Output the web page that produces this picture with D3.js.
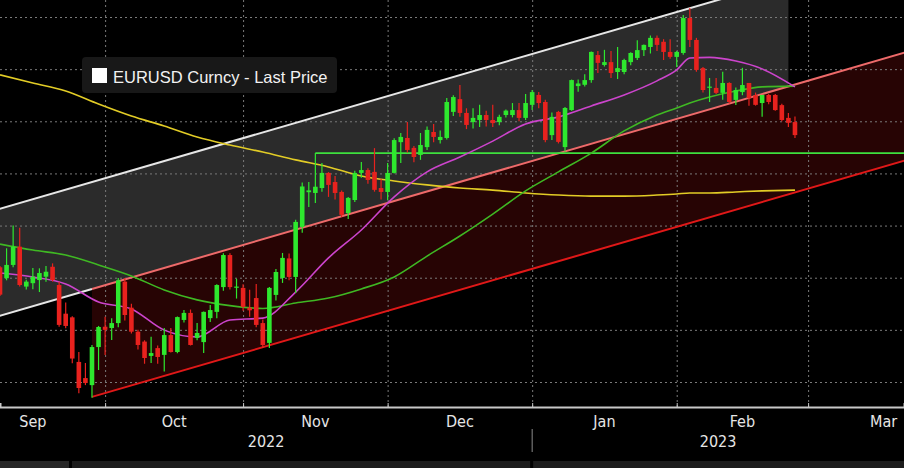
<!DOCTYPE html>
<html><head><meta charset="utf-8">
<script src="https://cdn.jsdelivr.net/npm/d3@7"></script>
<style>html,body{margin:0;padding:0;background:#000;overflow:hidden}</style>
</head><body><svg id="c" width="904" height="468"></svg>
<script>
// ---------- DATA (EURUSD daily, from 2022-09-08 to 2023-02-24) ----------
const firstDate = "2022-09-08";
const open = [
1.0040,0.9998,1.0049,1.0119,0.9966,0.9979,0.9991,1.0004,1.0042,0.9972,
0.9862,0.9848,0.9677,0.9615,0.9588,0.9734,0.9812,0.9807,0.9826,0.9985,
0.9885,0.9793,0.9755,0.9700,0.9730,0.9704,0.9780,0.9715,0.9838,0.9865,
0.9769,0.9753,0.9845,0.9869,0.9964,1.0087,0.9962,0.9961,0.9885,0.9922,
0.9826,0.9750,0.9934,0.9999,1.0074,1.0003,1.0195,1.0328,1.0325,1.0344,
1.0402,1.0367,1.0329,1.0248,1.0298,1.0402,1.0413,1.0406,1.0344,1.0329,
1.0402,1.0520,1.0536,1.0498,1.0471,1.0501,1.0559,1.0528,1.0536,1.0636,
1.0685,1.0632,1.0597,1.0605,1.0624,1.0605,1.0597,1.0624,1.0624,1.0643,
1.0613,1.0663,1.0701,1.0674,1.0547,1.0636,1.0501,1.0643,1.0735,1.0740,
1.0758,1.0854,1.0816,1.0827,1.0789,1.0789,1.0827,1.0843,1.0873,1.0885,
1.0920,1.0905,1.0866,1.0847,1.0862,1.0996,1.0912,1.0804,1.0731,1.0728,
1.0709,1.0747,1.0682,1.0712,1.0747,1.0700,1.0670,1.0701,1.0701,1.0662,
1.0613,1.0597];
const high = [
1.0045,1.0113,1.0200,1.0192,0.9992,1.0037,1.0036,1.0045,1.0055,0.9985,
0.9905,0.9852,0.9715,0.9673,0.9742,0.9815,0.9850,0.9845,0.9999,0.9999,
0.9900,0.9800,0.9760,0.9774,0.9740,0.9807,0.9807,0.9851,0.9876,0.9878,
0.9826,0.9870,0.9895,0.9975,1.0094,1.0094,0.9996,0.9975,0.9954,0.9976,
0.9840,0.9964,1.0033,1.0095,1.0093,1.0222,1.0365,1.0367,1.0478,1.0440,
1.0405,1.0390,1.0335,1.0310,1.0410,1.0444,1.0420,1.0497,1.0380,1.0440,
1.0535,1.0555,1.0597,1.0505,1.0555,1.0580,1.0590,1.0565,1.0689,1.0700,
1.0739,1.0650,1.0650,1.0663,1.0640,1.0663,1.0625,1.0645,1.0670,1.0670,
1.0705,1.0720,1.0712,1.0683,1.0634,1.0640,1.0655,1.0760,1.0760,1.0780,
1.0868,1.0870,1.0874,1.0870,1.0885,1.0840,1.0865,1.0911,1.0895,1.0929,
1.0929,1.0915,1.0915,1.0870,1.1008,1.1035,1.0920,1.0808,1.0766,1.0766,
1.0790,1.0750,1.0730,1.0805,1.0747,1.0710,1.0701,1.0705,1.0705,1.0667,
1.0632,1.0618];
const low = [
0.9930,0.9990,1.0040,0.9966,0.9955,0.9956,0.9945,0.9985,0.9985,0.9812,
0.9806,0.9672,0.9557,0.9588,0.9540,0.9646,0.9704,0.9761,0.9810,0.9836,
0.9786,0.9725,0.9670,0.9673,0.9670,0.9640,0.9713,0.9710,0.9828,0.9740,
0.9760,0.9711,0.9830,0.9845,0.9950,0.9955,0.9920,0.9873,0.9850,0.9810,
0.9730,0.9730,0.9913,0.9980,0.9990,0.9941,1.0172,1.0271,1.0287,1.0330,
1.0310,1.0300,1.0233,1.0225,1.0290,1.0383,1.0360,1.0330,1.0300,1.0298,
1.0400,1.0440,1.0480,1.0443,1.0452,1.0490,1.0520,1.0515,1.0530,1.0620,
1.0617,1.0570,1.0572,1.0578,1.0580,1.0578,1.0585,1.0615,1.0615,1.0600,
1.0605,1.0643,1.0650,1.0520,1.0528,1.0515,1.0484,1.0640,1.0713,1.0733,
1.0748,1.0785,1.0810,1.0766,1.0762,1.0780,1.0815,1.0835,1.0850,1.0860,
1.0870,1.0835,1.0840,1.0808,1.0855,1.0885,1.0790,1.0710,1.0674,1.0705,
1.0683,1.0668,1.0662,1.0700,1.0660,1.0660,1.0617,1.0665,1.0640,1.0600,
1.0578,1.0536];
const close = [
0.9935,1.0049,1.0119,0.9972,0.9985,1.0004,1.0018,1.0023,0.9991,0.9819,
0.9815,0.9690,0.9577,0.9596,0.9734,0.9811,0.9800,0.9826,0.9990,0.9857,
0.9793,0.9742,0.9692,0.9711,0.9696,0.9780,0.9715,0.9849,0.9865,0.9742,
0.9788,0.9869,0.9876,0.9972,1.0087,0.9964,0.9966,0.9888,0.9875,0.9819,
0.9742,0.9961,1.0022,1.0076,1.0003,1.0214,1.0350,1.0335,1.0349,1.0402,
1.0356,1.0325,1.0241,1.0306,1.0402,1.0413,1.0375,1.0337,1.0329,1.0402,
1.0528,1.0540,1.0490,1.0463,1.0509,1.0567,1.0540,1.0540,1.0674,1.0693,
1.0632,1.0586,1.0613,1.0624,1.0605,1.0593,1.0617,1.0641,1.0643,1.0613,
1.0670,1.0712,1.0670,1.0528,1.0617,1.0521,1.0651,1.0758,1.0745,1.0758,
1.0866,1.0824,1.0827,1.0785,1.0804,1.0835,1.0862,1.0873,1.0893,1.0920,
1.0893,1.0866,1.0847,1.0866,1.0996,1.0912,1.0797,1.0720,1.0733,1.0709,
1.0747,1.0674,1.0720,1.0739,1.0689,1.0663,1.0701,1.0674,1.0643,1.0605,
1.0594,1.0547];

// moving averages, sampled at these trading-day positions (0 = first date)
const maIdx   = [0,5,10,15,20,25,30,35,40,45,50,55,60,65,70,75,80,85,90,95,100,103,105,108,112,116,121];
const maShort = [1.0018,1.0003,0.9976,0.9907,0.9880,0.9799,0.9773,0.9838,0.9845,0.9945,1.0076,1.0183,1.0310,1.0406,1.0463,1.0524,1.0590,1.0617,1.0659,1.0701,1.0755,1.0797,1.0843,1.0845,1.0831,1.0801,1.0732];
const maMid   = [1.0129,1.0106,1.0087,1.0049,1.0007,0.9953,0.9915,0.9893,0.9882,0.9903,0.9922,0.9957,1.0003,1.0083,1.0160,1.0244,1.0333,1.0406,1.0478,1.0563,1.0624,1.0651,1.0670,1.0693,1.0716,1.0732,1.0735];
const maLong  = [1.0778,1.0747,1.0716,1.0666,1.0620,1.0582,1.0540,1.0509,1.0482,1.0452,1.0425,1.0390,1.0371,1.0356,1.0344,1.0336,1.0325,1.0317,1.0313,1.0313,1.0317,1.0321,1.0325,1.0325,1.0329,1.0333,1.0336];

// trend channel: middle line anchors (trading-day position, price) and offsets
const channelIdx = [14, 121];
const channelMid = [0.9957, 1.0741];
const channelUpperOffset = 0.0410;
const channelLowerOffset = 0.0414;
const greyChannelEnd = 120;
const redChannelStart = 14;
const levelPrice = 1.0478, levelStart = 48;

const priceTicks = [0.96,0.98,1.00,1.02,1.04,1.06,1.08,1.10];
const monthNames = ["Sep","Oct","Nov","Dec","Jan","Feb","Mar"];
const yearNames = ["2022","2023"];
const legendLabel = "EURUSD Curncy - Last Price";

// ---------- LAYOUT ----------
const W = 904, H = 468, plotBottom = 407, STEP = 6.57;
const svg = d3.select('#c');
svg.append('rect').attr('width', W).attr('height', H).attr('fill', '#000');

const allDays = d3.utcDays(new Date(Date.UTC(2022,7,1)), new Date(Date.UTC(2023,4,1)))
  .filter(d => d.getUTCDay() !== 0 && d.getUTCDay() !== 6);
const start = allDays.findIndex(d => d.toISOString().slice(0,10) === firstDate);
const x = d3.scaleLinear().domain([start, start + W / STEP]).range([0, W]);
const xj = j => x(start + j);
const y = d3.scaleLinear().domain([0.96, 1.10]).range([382, 17]);

const defs = svg.append('defs');
defs.append('clipPath').attr('id', 'plot').append('rect').attr('width', W).attr('height', plotBottom);
const plot = svg.append('g').attr('clip-path', 'url(#plot)');

// channel geometry
const mid = d3.scaleLinear().domain(channelIdx).range(channelMid);
const jLeft = x.invert(0) - start - 1, jRight = x.invert(W) - start + 1;

// grey channel
plot.append('path')
  .datum([jLeft, greyChannelEnd])
  .attr('fill', '#2b2b2b')
  .attr('d', d3.area().x(d => xj(d)).y0(d => y(mid(d))).y1(d => y(mid(d) + channelUpperOffset)));
// red channel
plot.append('path')
  .datum([redChannelStart, jRight])
  .attr('fill', '#270404')
  .attr('d', d3.area().x(d => xj(d)).y0(d => y(mid(d) - channelLowerOffset)).y1(d => y(mid(d))));

// month boundaries (center of last trading day of previous month)
const months = [];
for (let m = 7; m <= 15; m++) {
  const yr = 2022 + Math.floor(m / 12), mo = m % 12;
  const f = allDays.findIndex(d => d.getUTCFullYear() === yr && d.getUTCMonth() === mo);
  months.push({yr, mo, tick: f - 1});
}
const tickIdx = months.map(m => m.tick);

// gridlines
const gx = plot.append('g').attr('transform', `translate(0,${plotBottom})`)
  .call(d3.axisBottom(x).tickValues(tickIdx).tickSize(-plotBottom).tickFormat(''));
gx.select('.domain').remove();
gx.selectAll('line').attr('stroke', '#7a7a7a').attr('stroke-dasharray', '2,3');
const gy = plot.append('g')
  .call(d3.axisRight(y).tickValues(priceTicks).tickSize(W).tickFormat(''));
gy.select('.domain').remove();
gy.selectAll('line').attr('stroke', '#7a7a7a').attr('stroke-dasharray', '2,3');

// channel lines
const seg = (a, b, f) => `M${xj(a)},${y(f(a))}L${xj(b)},${y(f(b))}`;
plot.append('path').attr('d', seg(jLeft, greyChannelEnd, d => mid(d) + channelUpperOffset))
  .attr('stroke', '#e6e6e6').attr('stroke-width', 2).attr('fill', 'none');
plot.append('path').attr('d', seg(jLeft, redChannelStart, d => mid(d)))
  .attr('stroke', '#e6e6e6').attr('stroke-width', 2).attr('fill', 'none');
plot.append('path').attr('d', seg(redChannelStart, jRight, d => mid(d)))
  .attr('stroke', '#ee6a6a').attr('stroke-width', 2).attr('fill', 'none');
plot.append('path').attr('d', seg(redChannelStart, jRight, d => mid(d) - channelLowerOffset))
  .attr('stroke', '#e01818').attr('stroke-width', 2).attr('fill', 'none');

// horizontal level
plot.append('path').attr('d', `M${xj(levelStart)},${y(levelPrice)}H${W}`)
  .attr('stroke', '#3ee03e').attr('stroke-width', 1.6).attr('fill', 'none');

// moving averages
const maLine = vals => d3.line().curve(d3.curveMonotoneX).x((d, i) => xj(maIdx[i])).y(d => y(d))(vals);
[[maLong, '#e2cc26'], [maMid, '#3fb823'], [maShort, '#cc44cc']].forEach(([v, c]) => {
  plot.append('path').attr('d', maLine(v)).attr('stroke', c).attr('stroke-width', 1.6).attr('fill', 'none');
});

// candles
const bw = 4.6;
const candles = plot.append('g').selectAll('g').data(close.map((c, j) => ({j, o: open[j], h: high[j], l: low[j], c})))
  .join('g').attr('fill', d => d.c >= d.o ? '#2ee82e' : '#e8221e').attr('stroke', d => d.c >= d.o ? '#2ee82e' : '#e8221e');
candles.append('line').attr('x1', d => xj(d.j)).attr('x2', d => xj(d.j))
  .attr('y1', d => y(d.h)).attr('y2', d => y(d.l)).attr('stroke-width', 1.2);
candles.append('rect').attr('stroke', 'none')
  .attr('x', d => xj(d.j) - bw / 2).attr('width', bw)
  .attr('y', d => y(Math.max(d.o, d.c)))
  .attr('height', d => Math.max(1.2, y(Math.min(d.o, d.c)) - y(Math.max(d.o, d.c))));

// legend
const lg = svg.append('g');
lg.append('rect').attr('x', 82).attr('y', 57).attr('width', 255).attr('height', 36).attr('rx', 4).attr('fill', '#181818');
lg.append('rect').attr('x', 92).attr('y', 68).attr('width', 15).attr('height', 15).attr('fill', '#fff');
lg.append('text').attr('x', 113).attr('y', 83).text(legendLabel)
  .attr('fill', '#f2f2f2').attr('font-family', 'Liberation Sans, Arial, sans-serif').attr('font-size', 16.5);

// x axis
const ax = svg.append('g').attr('transform', `translate(0,${plotBottom})`)
  .call(d3.axisBottom(x).tickValues(tickIdx).tickSize(-4).tickFormat(''));
ax.select('.domain').attr('stroke', '#c8c8c8').attr('stroke-width', 2);
ax.selectAll('.tick line').attr('stroke', '#c8c8c8');

const fontAxis = '"Liberation Sans Narrow", "DejaVu Sans Condensed", "Arial Narrow", sans-serif';
const labelData = monthNames.map((n, i) => ({n, pos: (x(months[i + 1].tick) + x(months[i + 2].tick)) / 2}));
svg.append('g').selectAll('text').data(labelData).join('text')
  .attr('x', d => d.pos).attr('y', 427).attr('text-anchor', 'middle')
  .attr('fill', '#e6e6e6').attr('font-family', fontAxis).attr('font-size', 16).text(d => d.n);

const yearSplit = x(months.find(m => m.yr === 2023 && m.mo === 0).tick);
const yearData = [{n: yearNames[0], pos: (0 + yearSplit) / 2}, {n: yearNames[1], pos: (yearSplit + W) / 2}];
svg.append('g').selectAll('text').data(yearData).join('text')
  .attr('x', d => d.pos).attr('y', 447).attr('text-anchor', 'middle')
  .attr('fill', '#e6e6e6').attr('font-family', fontAxis).attr('font-size', 16).text(d => d.n);
svg.append('line').attr('x1', yearSplit).attr('x2', yearSplit).attr('y1', 429).attr('y2', 452)
  .attr('stroke', '#8a8a8a').attr('stroke-width', 1);

// bottom strip
svg.append('rect').attr('x', 0).attr('y', 461).attr('width', 69).attr('height', 7).attr('fill', '#262626');
svg.append('rect').attr('x', 72).attr('y', 461).attr('width', yearSplit - 74).attr('height', 7).attr('fill', '#1c1c1c');
svg.append('rect').attr('x', yearSplit + 1).attr('y', 461).attr('width', W - yearSplit - 1).attr('height', 7).attr('fill', '#1c1c1c');
</script>
</body></html>
